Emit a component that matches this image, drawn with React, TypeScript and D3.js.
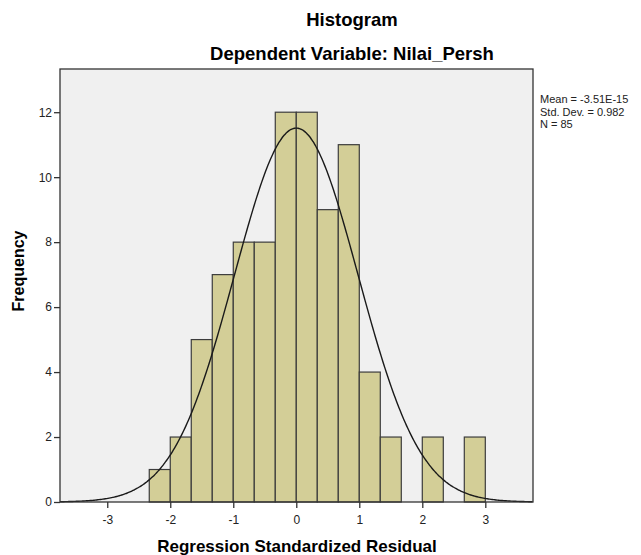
import * as d3 from "d3";
import { useEffect, useRef } from "react";

// bin edges (width 1/3) and counts
const binStarts = [-7, -6, -5, -4, -3, -2, -1, 0, 1, 2, 3, 4, 5, 6, 7, 8];
const binCounts = [1, 2, 5, 7, 8, 8, 12, 12, 9, 11, 4, 2, 0, 2, 0, 2];
const binWidth = 1 / 3;

const xTicks = [-3, -2, -1, 0, 1, 2, 3];
const yTicks = [0, 2, 4, 6, 8, 10, 12];

const statMean = -3.51e-15;
const statSd = 0.982;
const statN = 85;
const legendLines = ["Mean = -3.51E-15", "Std. Dev. = 0.982", "N = 85"];

const App = () => {
    const ref = useRef<SVGSVGElement>(null);

    useEffect(() => {
        const svg = d3.select(ref.current);
        svg.selectAll("*").remove();

        const width = 641;
        const height = 555;
        const margin = { top: 69, right: 108, bottom: 53, left: 60 };
        const font = "Arial, 'Liberation Sans', sans-serif";

        const x = d3.scaleLinear()
            .domain([-3.75, 3.757])
            .range([margin.left, width - margin.right]);

        const y = d3.scaleLinear()
            .domain([0, 13.33])
            .range([height - margin.bottom, margin.top]);

        // plot background
        svg.append("rect")
            .attr("x", margin.left)
            .attr("y", margin.top)
            .attr("width", width - margin.left - margin.right)
            .attr("height", height - margin.top - margin.bottom)
            .attr("fill", "#f0f0f0");

        // bars
        const bins = binStarts.map((b, i) => ({ x0: b * binWidth, x1: (b + 1) * binWidth, n: binCounts[i] }))
            .filter(d => d.n > 0);

        svg.append("g")
            .selectAll("rect")
            .data(bins)
            .join("rect")
            .attr("x", d => x(d.x0))
            .attr("y", d => y(d.n))
            .attr("width", d => x(d.x1) - x(d.x0))
            .attr("height", d => y(0) - y(d.n))
            .attr("fill", "#d3ce97")
            .attr("stroke", "#3c3c3c")
            .attr("stroke-width", 1.2);

        // fitted normal curve
        const normal = (v: number) =>
            statN * binWidth * Math.exp(-0.5 * ((v - statMean) / statSd) ** 2) / (statSd * Math.sqrt(2 * Math.PI));
        const curvePts = d3.range(-3.75, 3.76, 0.02);
        svg.append("path")
            .datum(curvePts)
            .attr("fill", "none")
            .attr("stroke", "#1a1a1a")
            .attr("stroke-width", 1.4)
            .attr("d", d3.line<number>()
                .x(d => x(d))
                .y(d => y(normal(d)))
                .curve(d3.curveMonotoneX));

        // frame
        svg.append("rect")
            .attr("x", margin.left)
            .attr("y", margin.top)
            .attr("width", width - margin.left - margin.right)
            .attr("height", height - margin.top - margin.bottom)
            .attr("fill", "none")
            .attr("stroke", "#333")
            .attr("stroke-width", 1.3);

        // X axis
        const xAxis = svg.append("g")
            .attr("transform", `translate(0, ${y(0)})`)
            .call(d3.axisBottom(x).tickValues(xTicks).tickSize(6).tickSizeOuter(0));
        xAxis.select(".domain").remove();
        xAxis.selectAll("line").attr("stroke", "#333").attr("stroke-width", 1.3);
        xAxis.selectAll("text")
            .attr("font-family", font)
            .attr("font-size", 12)
            .attr("fill", "#222")
            .attr("dy", "1.05em")
            .text(d => String(d));

        // Y axis
        const yAxis = svg.append("g")
            .attr("transform", `translate(${margin.left}, 0)`)
            .call(d3.axisLeft(y).tickValues(yTicks).tickSize(6).tickSizeOuter(0));
        yAxis.select(".domain").remove();
        yAxis.selectAll("line").attr("stroke", "#333").attr("stroke-width", 1.3);
        yAxis.selectAll("text")
            .attr("font-family", font)
            .attr("font-size", 12)
            .attr("fill", "#222")
            .attr("x", -8);

        // titles
        svg.append("text")
            .attr("x", 352)
            .attr("y", 26)
            .attr("text-anchor", "middle")
            .attr("font-family", font)
            .attr("font-weight", "bold")
            .attr("font-size", 18.5)
            .text("Histogram");

        svg.append("text")
            .attr("x", 352)
            .attr("y", 60)
            .attr("text-anchor", "middle")
            .attr("font-family", font)
            .attr("font-weight", "bold")
            .attr("font-size", 18.5)
            .text("Dependent Variable: Nilai_Persh");

        // axis labels
        svg.append("text")
            .attr("x", 297)
            .attr("y", 552)
            .attr("text-anchor", "middle")
            .attr("font-family", font)
            .attr("font-weight", "bold")
            .attr("font-size", 17)
            .text("Regression Standardized Residual");

        svg.append("text")
            .attr("transform", "translate(24, 271) rotate(-90)")
            .attr("text-anchor", "middle")
            .attr("font-family", font)
            .attr("font-weight", "bold")
            .attr("font-size", 16)
            .text("Frequency");

        // stats legend
        svg.append("g")
            .selectAll("text")
            .data(legendLines)
            .join("text")
            .attr("x", 540)
            .attr("y", (d, i) => 103 + i * 12.5)
            .attr("font-family", font)
            .attr("font-size", 11)
            .attr("fill", "#222")
            .text(d => d);
    });

    return (
        <svg ref={ref} width={641} height={555} style={{ position: "absolute", left: 0, top: 0 }}>
        </svg>
    );
};

export default App;
